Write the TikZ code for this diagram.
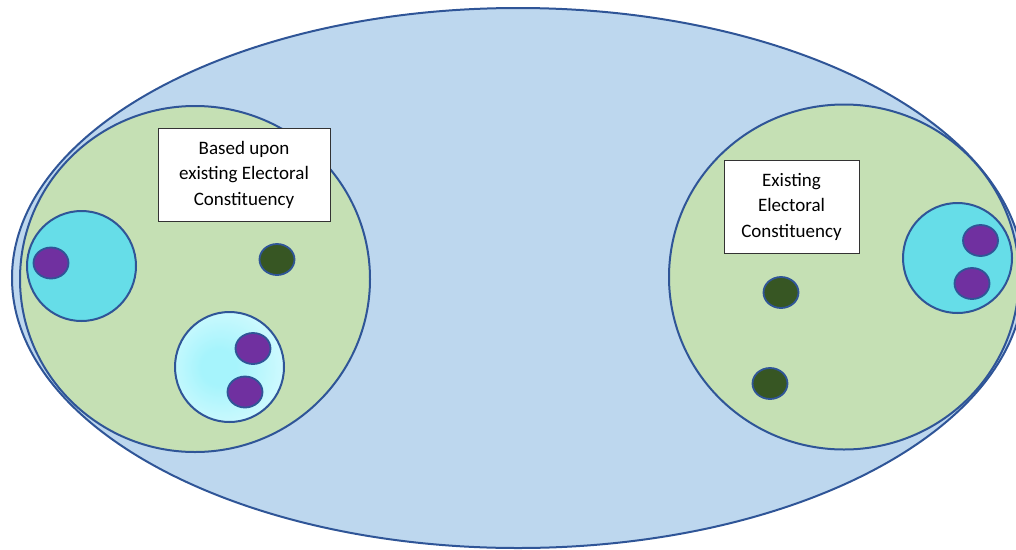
\documentclass[tikz,border=0pt]{standalone}
\usepackage{fontspec}
\setmainfont{Carlito}
\usetikzlibrary{shapes.geometric}
\definecolor{bigfill}{HTML}{BDD7EE}
\definecolor{edge}{HTML}{2F5597}
\definecolor{grn}{HTML}{C5E0B4}
\definecolor{cyn}{HTML}{66DDE8}
\definecolor{purp}{HTML}{7030A0}
\definecolor{dgrn}{HTML}{375623}
\definecolor{lcin}{HTML}{A6F4FC}
\definecolor{lcout}{HTML}{E8FDFF}
\pgfdeclareradialshading{lightcyan}{\pgfpoint{-6bp}{0bp}}{color(0bp)=(lcin); color(8bp)=(lcin); color(40bp)=(lcout); color(50bp)=(lcout)}
\tikzset{
  region/.style={ellipse, draw=edge, line width=2pt, inner sep=0pt},
  dot/.style={ellipse, draw=edge, line width=1.8pt, minimum width=35pt, minimum height=31pt, inner sep=0pt},
  member/.style={dot, fill=purp},
  seat/.style={dot, fill=dgrn},
  label/.style={draw=black!80, line width=0.9pt, fill=white, align=center, font=\fontsize{19}{25.5}\selectfont, inner sep=0pt}
}
\begin{document}
\begin{tikzpicture}[x=1pt,y=-1pt]
\useasboundingbox (0,0) rectangle (1016,549);
\clip (0,0) rectangle (1016,549);
\node[region, fill=bigfill, minimum width=1012pt, minimum height=540pt] (big) at (518,278) {};
\node[region, fill=grn, minimum width=350pt, minimum height=346pt] (lg) at (195,279) {};
\node[region, fill=grn, minimum width=350pt, minimum height=345pt] (rg) at (844,277) {};
\node[region, fill=cyn, minimum width=109pt, minimum height=110pt] (lc) at (81.5,266) {};
\node[region, shading=lightcyan, minimum width=109pt, minimum height=110pt] (lc2) at (229.5,367) {};
\node[region, fill=cyn, minimum width=109pt, minimum height=110pt] (rc) at (957.5,258) {};
\node[member] (p1) at (51,263) {};
\node[member] (p2) at (253,348.5) {};
\node[member] (p3) at (245,392) {};
\node[member] (p4) at (980.5,240.5) {};
\node[member] (p5) at (972,283.5) {};
\node[seat] (s1) at (277,259.5) {};
\node[seat] (s2) at (781,292.5) {};
\node[seat] (s3) at (770,383.5) {};
\node[label, minimum width=172pt, minimum height=93pt] (lb) at (244,174.5) {Based upon\\existing Electoral\\Constituency};
\node[label, minimum width=135pt, minimum height=93pt] (rb) at (791.5,206.5) {Existing\\Electoral\\Constituency};
\end{tikzpicture}
\end{document}
